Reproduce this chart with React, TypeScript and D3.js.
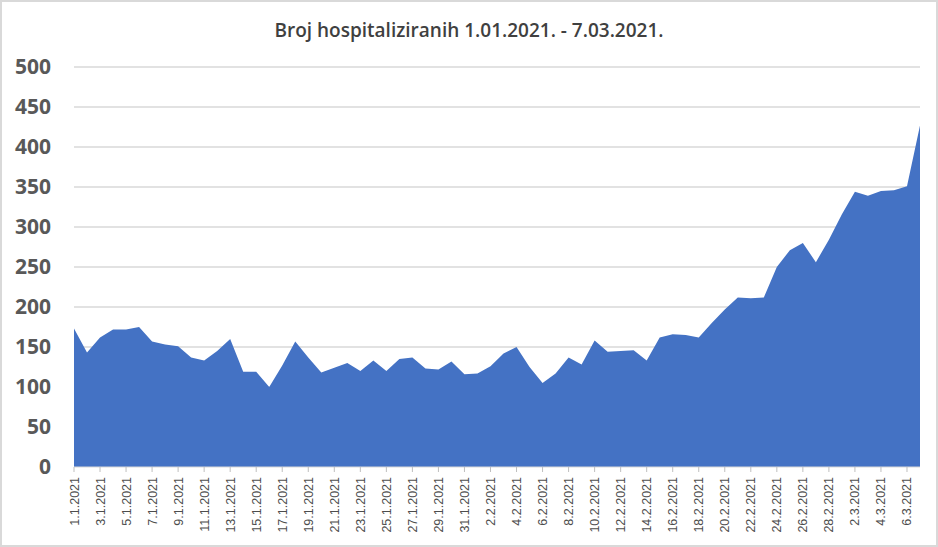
import React from "react";
import * as d3 from "d3";

const title = "Broj hospitaliziranih 1.01.2021. - 7.03.2021.";

const hospitalized: number[] = [
  173, 143, 162, 172, 172, 175, 157, 153, 151, 137,
  133, 145, 160, 119, 119, 100, 127, 157, 137, 118,
  124, 130, 120, 133, 120, 135, 137, 123, 122, 132,
  116, 117, 126, 142, 150, 125, 105, 117, 137, 128,
  158, 144, 145, 146, 133, 162, 166, 165, 162, 180,
  197, 212, 211, 212, 250, 271, 280, 256, 284, 316,
  344, 339, 345, 346, 351, 427,
];

// dates 1.1.2021 .. 7.3.2021
const months = [31, 28, 7];
const dateLabels: string[] = [];
months.forEach((n, m) => {
  for (let d = 1; d <= n; d++) dateLabels.push(`${d}.${m + 1}.2021`);
});

const yTicks = [0, 50, 100, 150, 200, 250, 300, 350, 400, 450, 500];

const W = 938;
const H = 547;
const left = 74;
const right = 920;
const top = 67;
const bottom = 467;

export default function App() {
  const x = d3.scaleLinear().domain([0, hospitalized.length - 1]).range([left, right]);
  const y = d3.scaleLinear().domain([0, 500]).range([bottom, top]);
  const area = d3
    .area<number>()
    .x((_, i) => x(i))
    .y0(y(0))
    .y1((d) => y(d));

  return (
    <svg
      width={W}
      height={H}
      style={{ position: "absolute", left: 0, top: 0, background: "#fff" }}
    >
      <rect x={1} y={1} width={W - 2} height={H - 2} fill="#fff" stroke="#d9d9d9" strokeWidth={2} />
      <text
        x={469}
        y={37}
        textAnchor="middle"
        fontFamily="'Open Sans', sans-serif"
        fontSize={19}
        fontWeight={600}
        fill="#404040"
      >
        {title}
      </text>
      {yTicks.map((t) => (
        <g key={t}>
          {t > 0 && (
            <line x1={left} x2={right} y1={y(t)} y2={y(t)} stroke="#d9d9d9" strokeWidth={1.3} />
          )}
          <text
            x={51}
            y={y(t)}
            dy="0.35em"
            textAnchor="end"
            fontFamily="'Open Sans', sans-serif"
            fontWeight="bold"
            fontSize={21}
            fill="#595959"
          >
            {t}
          </text>
        </g>
      ))}
      <path d={area(hospitalized) || ""} fill="#4472C4" />
      <line x1={left} x2={right} y1={bottom} y2={bottom} stroke="#d9d9d9" strokeWidth={1} />
      {dateLabels.map((lab, i) =>
        i % 2 === 0 ? (
          <g key={lab}>
            <line x1={x(i)} x2={x(i)} y1={bottom} y2={bottom + 5} stroke="#bfbfbf" strokeWidth={1} />
            <text
              transform={`translate(${x(i) + 4.5},${477}) rotate(-90)`}
              textAnchor="end"
              fontFamily="'Liberation Sans', Arial, sans-serif"
              fontSize={12.5}
              fill="#4d4d4d"
            >
              {lab}
            </text>
          </g>
        ) : null
      )}
    </svg>
  );
}
